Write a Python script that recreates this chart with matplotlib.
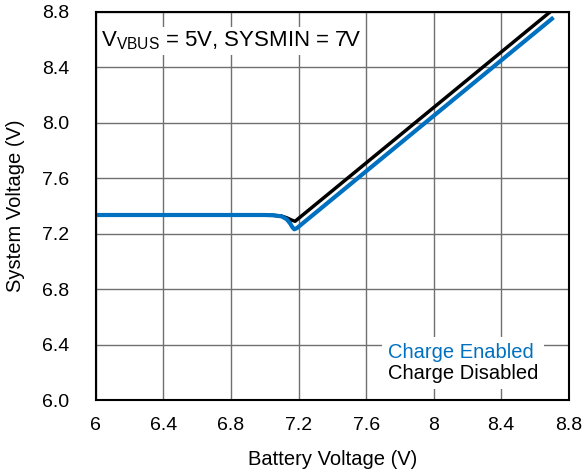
import matplotlib
matplotlib.use("Agg")
import matplotlib.pyplot as plt
from matplotlib.ticker import FormatStrFormatter

plt.rcParams['font.family'] = ['Liberation Sans', 'DejaVu Sans']
plt.rcParams['mathtext.fontset'] = 'custom'
plt.rcParams['mathtext.rm'] = 'Liberation Sans'

# Charge Enabled (blue)
vbat_en = [6.0, 6.5, 7.0, 7.05, 7.1, 7.13, 7.15, 7.165, 7.175, 7.19, 7.3, 7.8, 8.3, 8.7]
vsys_en = [7.335, 7.335, 7.335, 7.333, 7.325, 7.305, 7.275, 7.245, 7.232, 7.24, 7.35, 7.85, 8.35, 8.75]
# Charge Disabled (black)
vbat_dis = [6.0, 6.5, 7.0, 7.05, 7.1, 7.13, 7.16, 7.18, 7.3, 7.8, 8.3, 8.72]
vsys_dis = [7.335, 7.335, 7.335, 7.333, 7.327, 7.315, 7.298, 7.29, 7.41, 7.91, 8.41, 8.83]

xticks = [6, 6.4, 6.8, 7.2, 7.6, 8, 8.4, 8.8]
xtick_labels = ['6', '6.4', '6.8', '7.2', '7.6', '8', '8.4', '8.8']
yticks = [6.0, 6.4, 6.8, 7.2, 7.6, 8.0, 8.4, 8.8]

fig = plt.figure(figsize=(5.84, 4.73), dpi=100)
ax = fig.add_axes([0.164, 0.154, 0.81, 0.821])

ax.plot(vbat_dis, vsys_dis, color='black', lw=2.5, label='Charge Disabled', zorder=3)
ax.plot(vbat_en, vsys_en, color='#0070C0', lw=3, label='Charge Enabled', zorder=4)

ax.set_xlim(6, 8.8)
ax.set_ylim(6.0, 8.8)
ax.set_xticks(xticks)
ax.set_xticklabels(xtick_labels)
ax.set_yticks(yticks)
ax.yaxis.set_major_formatter(FormatStrFormatter('%.1f'))
ax.tick_params(labelsize=14, length=0)
ax.tick_params(axis='x', pad=12)
ax.tick_params(axis='y', pad=19)
ax.grid(True, color='#707070', lw=1)
for s in ax.spines.values():
    s.set_linewidth(1.5)
    s.set_zorder(6)

ax.set_xlabel('Battery Voltage (V)', fontsize=14.5, labelpad=12)
ax.set_ylabel('System Voltage (V)', fontsize=14.5, labelpad=12)

ax.text(0.01, 0.955, r'V$_{\mathregular{VBUS}}$ = 5V, SYSMIN = 7V', transform=ax.transAxes,
        fontsize=16, va='top', ha='left', zorder=5,
        bbox=dict(facecolor='white', edgecolor='none', pad=2))

handles, labels = ax.get_legend_handles_labels()
leg = ax.legend(handles[::-1], labels[::-1], loc='lower left', bbox_to_anchor=(0.592, 0.012),
                handlelength=0, handletextpad=0,
                labelcolor='linecolor', fontsize=14.5, frameon=True, fancybox=False,
                borderaxespad=0.3, borderpad=0.3, labelspacing=0.1)
for hd in leg.legend_handles:
    hd.set_visible(False)
leg.get_frame().set_edgecolor('none')
leg.get_frame().set_facecolor('white')
leg.get_frame().set_alpha(1)
leg.set_zorder(5)

fig.savefig('out.png', dpi=100)
